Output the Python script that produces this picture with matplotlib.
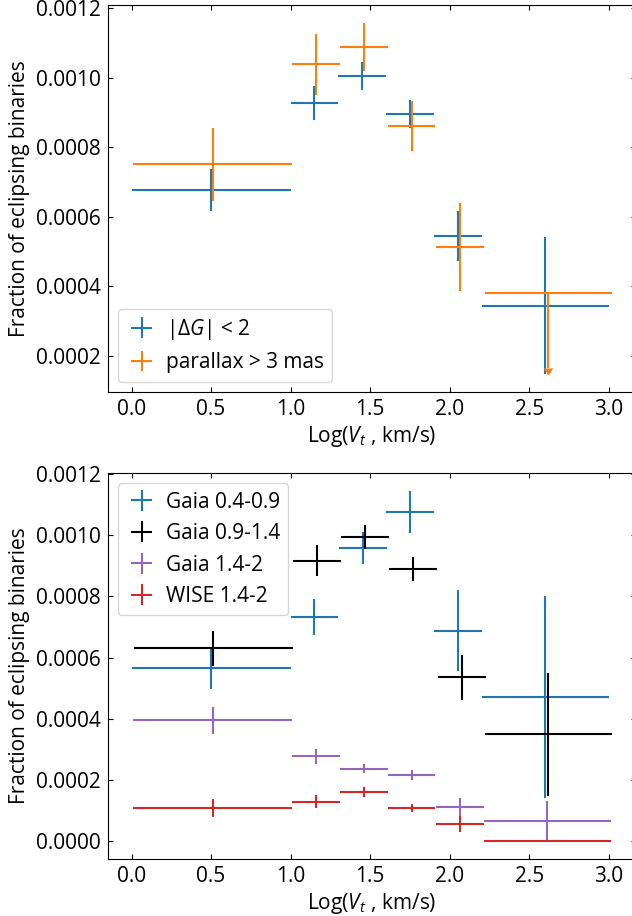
import matplotlib
matplotlib.use('Agg')
import matplotlib.pyplot as plt

plt.rcParams['font.family'] = ['Open Sans', 'DejaVu Sans']
plt.rcParams['font.size'] = 15
plt.rcParams['mathtext.fontset'] = 'custom'
plt.rcParams['mathtext.rm'] = 'Open Sans'
plt.rcParams['mathtext.it'] = 'Open Sans:italic'
plt.rcParams['mathtext.bf'] = 'Open Sans:bold'
plt.rcParams['legend.handlelength'] = 1.5
plt.rcParams['legend.handletextpad'] = 0.4

# bin half widths in Log(Vt)
x_w = [0.5, 0.15, 0.15, 0.15, 0.15, 0.4]

# top panel
dg_x = [0.5, 1.15, 1.45, 1.75, 2.05, 2.6]
dg_y = [0.000677, 0.000927, 0.001005, 0.000895, 0.000544, 0.000344]
dg_err = [0.00006, 0.00005, 0.00004, 0.00004, 0.000073, 0.000198]
par_x = [0.51, 1.16, 1.46, 1.76, 2.065, 2.62]
par_y = [0.00075, 0.0010375, 0.001088, 0.00086, 0.000512, 0.00038]
par_err = [0.000105, 0.000088, 0.00007, 0.000072, 0.000127, 0.000216]
par_uplim = [False, False, False, False, False, True]

# bottom panel
g1_x = [0.5, 1.15, 1.455, 1.75, 2.05, 2.6]
g1_y = [0.000566, 0.000732, 0.000957, 0.001075, 0.000688, 0.000472]
g1_err = [0.00007, 0.000058, 0.000052, 0.00007, 0.000133, 0.00033]
g2_x = [0.513, 1.165, 1.468, 1.77, 2.075, 2.62]
g2_y = [0.00063, 0.000916, 0.000992, 0.000889, 0.000535, 0.000349]
g2_err = [0.000057, 0.00005, 0.000039, 0.00004, 0.000072, 0.0002]
g3_x = [0.51, 1.16, 1.46, 1.76, 2.063, 2.613]
g3_y = [0.000395, 0.000278, 0.000238, 0.000216, 0.000112, 0.0000675]
g3_err = [0.000044, 0.000025, 0.000016, 0.000017, 0.000029, 0.000065]
w_x = [0.51, 1.16, 1.46, 1.76, 2.063, 2.613]
w_y = [0.00011, 0.00013, 0.000161, 0.000108, 0.0000576, 0.0]
w_err = [0.000029, 0.000022, 0.000017, 0.000013, 0.000026, 0.0]

fig = plt.figure(figsize=(6.32, 9.16), dpi=100)
ax1 = fig.add_axes([107.5 / 632, 1 - 392 / 916, 528.5 / 632, 387 / 916])
ax2 = fig.add_axes([107.5 / 632, 1 - 859 / 916, 528.5 / 632, 386 / 916])

ax1.errorbar(dg_x, dg_y, xerr=x_w, yerr=dg_err, fmt='none', lw=1.5,
             color='tab:blue', label=r'$|\Delta G|$ < 2')
# normal points with label, upper limit drawn on its own so the legend stays a plain cross
n = par_uplim.index(True)
ax1.errorbar(par_x[:n], par_y[:n], xerr=x_w[:n], yerr=par_err[:n], fmt='none',
             lw=1.5, color='tab:orange', label='parallax > 3 mas')
ax1.errorbar(par_x[n:], par_y[n:], xerr=x_w[n:], yerr=par_err[n:], uplims=par_uplim[n:],
             fmt='none', lw=1.5, color='tab:orange')
ax1.legend(loc='lower left')

ax2.errorbar(g1_x, g1_y, xerr=x_w, yerr=g1_err, fmt='none', lw=1.5,
             color='tab:blue', label='Gaia 0.4-0.9')
ax2.errorbar(g2_x, g2_y, xerr=x_w, yerr=g2_err, fmt='none', lw=1.5,
             color='k', label='Gaia 0.9-1.4')
ax2.errorbar(g3_x, g3_y, xerr=x_w, yerr=g3_err, fmt='none', lw=1.5,
             color='tab:purple', label='Gaia 1.4-2')
ax2.errorbar(w_x, w_y, xerr=x_w, yerr=w_err, fmt='none', lw=1.5,
             color='tab:red', label='WISE 1.4-2')
ax2.legend(loc='upper left')

for ax in (ax1, ax2):
    ax.set_xlabel(r'Log($V_t$ , km/s)', labelpad=3)
    ax.set_ylabel('Fraction of eclipsing binaries')
    ax.tick_params(direction='in', top=True, right=True, pad=5)
    ax.set_xticks([0.0, 0.5, 1.0, 1.5, 2.0, 2.5, 3.0])
    ax.spines['right'].set_visible(False)  # falls outside the cropped picture

fig.savefig('out.png', dpi=100)
